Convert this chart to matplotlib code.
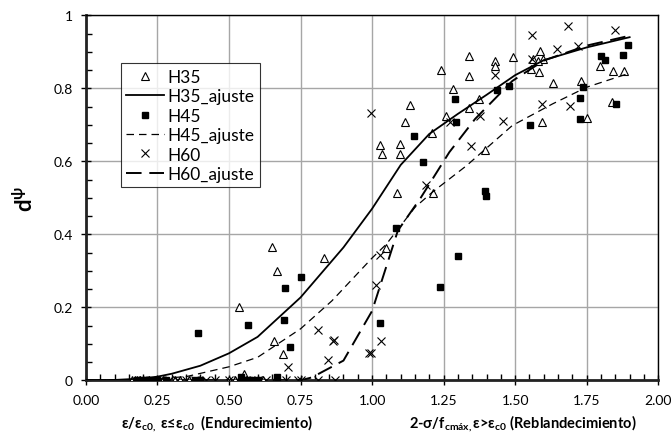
import matplotlib
matplotlib.use("Agg")
from matplotlib import pyplot as plt
from matplotlib.ticker import MultipleLocator, FixedLocator

plt.rcParams['font.family'] = ['Lato', 'DejaVu Sans']
plt.rcParams['mathtext.fontset'] = 'custom'
plt.rcParams['mathtext.rm'] = 'Lato:bold'
plt.rcParams['mathtext.it'] = 'Lato:bold'
plt.rcParams['mathtext.bf'] = 'Lato:bold'

# --- data ---
h35_x = [0.651, 0.831, 0.669, 0.536, 0.658, 0.690, 0.553,
         1.340, 1.429, 1.430, 1.493, 1.241, 1.337, 1.283, 1.374, 1.337, 1.259,
         1.133, 1.115, 1.209, 1.028, 1.036, 1.098, 1.098, 1.395, 1.086, 1.214,
         1.048, 1.588, 1.599, 1.555, 1.585, 1.632, 1.731, 1.795, 1.842, 1.882,
         1.838, 1.751, 1.593, 1.563, 1.580,
         0.16, 0.17, 0.18, 0.19, 0.20, 0.22, 0.24, 0.27, 0.31, 0.33, 0.36,
         0.50, 0.52, 0.56, 0.60, 0.62, 0.66]
h35_y = [0.364, 0.335, 0.299, 0.200, 0.108, 0.072, 0.017,
         0.888, 0.874, 0.860, 0.885, 0.851, 0.835, 0.798, 0.771, 0.746, 0.723,
         0.754, 0.708, 0.677, 0.645, 0.620, 0.647, 0.620, 0.632, 0.513, 0.513,
         0.362, 0.901, 0.880, 0.853, 0.844, 0.815, 0.819, 0.862, 0.848, 0.848,
         0.762, 0.719, 0.707, 0.880, 0.875,
         0, 0, 0, 0, 0, 0, 0, 0, 0, 0, 0,
         0, 0, 0, 0, 0, 0]

h45_x = [0.393, 0.751, 0.697, 0.565, 0.692, 0.714, 0.542, 0.669,
         1.290, 1.294, 1.148, 1.178, 1.437, 1.479, 1.395, 1.397,
         1.083, 1.302, 1.237, 1.028,
         1.552, 1.725, 1.727, 1.737, 1.800, 1.815, 1.876, 1.893, 1.853,
         0.18, 0.20, 0.21, 0.23, 0.25, 0.28, 0.38, 0.40, 0.55, 0.57, 0.58, 0.60]
h45_y = [0.130, 0.284, 0.253, 0.152, 0.165, 0.090, 0.008, 0.008,
         0.770, 0.708, 0.670, 0.599, 0.796, 0.807, 0.519, 0.506,
         0.416, 0.341, 0.256, 0.158,
         0.700, 0.716, 0.773, 0.803, 0.888, 0.878, 0.891, 0.919, 0.758,
         0, 0, 0, 0, 0, 0, 0, 0, 0, 0, 0, 0]

h60_x = [0.812, 0.868, 0.865, 0.845, 0.707, 0.990,
         1.028, 1.013, 1.031, 0.997,
         0.997, 1.430, 1.378, 1.456, 1.346, 1.189, 1.273,
         1.558, 1.683, 1.850, 1.646, 1.721, 1.558, 1.593, 1.690,
         0.20, 0.23, 0.26, 0.29, 0.32, 0.35, 0.38, 0.42, 0.45, 0.50,
         0.53, 0.56, 0.60, 0.63, 0.70, 0.74, 0.75, 0.81, 0.87]
h60_y = [0.138, 0.111, 0.108, 0.056, 0.036, 0.074,
         0.343, 0.262, 0.108, 0.075,
         0.732, 0.836, 0.725, 0.710, 0.641, 0.536, 0.707,
         0.946, 0.972, 0.961, 0.908, 0.915, 0.880, 0.757, 0.751,
         0, 0, 0, 0, 0, 0, 0, 0, 0, 0,
         0, 0, 0, 0, 0, 0, 0, 0, 0]

h35_fit_x = [0, 0.1, 0.2, 0.25, 0.3, 0.4, 0.5, 0.6, 0.75, 0.9, 1.0, 1.1,
             1.2, 1.3, 1.4, 1.5, 1.6, 1.75, 1.9]
h35_fit_y = [0, 0.001, 0.005, 0.010, 0.018, 0.040, 0.074, 0.119, 0.227, 0.364,
             0.470, 0.590, 0.675, 0.730, 0.782, 0.836, 0.877, 0.912, 0.940]

h45_fit_x = [0, 0.2, 0.35, 0.5, 0.6, 0.75, 0.86, 1.0, 1.05, 1.15, 1.21,
             1.33, 1.49, 1.63, 1.75, 1.89]
h45_fit_y = [0, 0.002, 0.010, 0.037, 0.063, 0.141, 0.218, 0.335, 0.373, 0.474,
             0.515, 0.588, 0.698, 0.757, 0.803, 0.839]

h60_fit_x = [0, 0.75, 0.79, 0.9, 1.0, 1.09, 1.17, 1.27, 1.36, 1.49, 1.6,
             1.75, 1.9]
h60_fit_y = [0, 0, 0.008, 0.054, 0.190, 0.410, 0.500, 0.625, 0.716, 0.820,
             0.876, 0.917, 0.944]

x_ticks = [0, 0.25, 0.5, 0.75, 1.0, 1.25, 1.5, 1.75, 2.0]
x_labels = ['0.00', '0.25', '0.50', '0.75', '1.00', '1.25', '1.50', '1.75', '2.00']
y_ticks = [0, 0.2, 0.4, 0.6, 0.8, 1.0]
y_labels = ['0', '0.2', '0.4', '0.6', '0.8', '1']

fig = plt.figure(figsize=(6.71, 4.39), dpi=100)
ax = fig.add_axes([0.128, 0.1314, 0.853, 0.8315])

ax.plot(h35_x, h35_y, linestyle='none', marker='^', markersize=6,
        markerfacecolor='white', markeredgecolor='black', markeredgewidth=0.8,
        label='H35', zorder=3)
ax.plot(h35_fit_x, h35_fit_y, color='black', linewidth=1.3,
        label='H35_ajuste', zorder=4)
ax.plot(h45_x, h45_y, linestyle='none', marker='s', markersize=5,
        color='black', label='H45', zorder=3)
ax.plot(h45_fit_x, h45_fit_y, color='black', linewidth=0.9,
        linestyle=(0, (6, 4)), label='H45_ajuste', zorder=4)
ax.plot(h60_x, h60_y, linestyle='none', marker='x', markersize=5.5,
        color='black', markeredgewidth=0.8, label='H60', zorder=3)
ax.plot(h60_fit_x, h60_fit_y, color='black', linewidth=1.4,
        linestyle=(0, (8, 4)), label='H60_ajuste', zorder=4)

ax.set_xlim(0, 2)
ax.set_ylim(0, 1)
ax.xaxis.set_major_locator(FixedLocator(x_ticks))
ax.set_xticklabels(x_labels)
ax.yaxis.set_major_locator(FixedLocator(y_ticks))
ax.set_yticklabels(y_labels)
ax.xaxis.set_minor_locator(MultipleLocator(0.05))
ax.yaxis.set_minor_locator(MultipleLocator(0.05))
ax.tick_params(which='major', direction='inout', length=7, width=1,
               labelsize=10, pad=6)
ax.tick_params(which='minor', direction='in', length=4, width=1)
ax.grid(True, which='major', color='#a6a6a6', linewidth=1)
ax.set_axisbelow(True)

for side in ['left', 'bottom']:
    ax.spines[side].set_linewidth(2)
    ax.spines[side].set_color('#222222')
for side in ['top', 'right']:
    ax.spines[side].set_linewidth(1)

leg = ax.legend(loc='upper left', bbox_to_anchor=(0.061, 0.868),
                fontsize=12.5, frameon=True, fancybox=False, handlelength=2.2,
                handletextpad=0.2, borderpad=0.3, labelspacing=0.2,
                borderaxespad=0)
leg.get_frame().set_edgecolor('black')
leg.get_frame().set_linewidth(0.8)

ax.set_ylabel(r'd$^{\psi}$', fontsize=16, fontweight='bold', labelpad=12)

fig.text(217 / 671, 1 - 424 / 439,
         r'ε/ε$_{\mathregular{c0,}}$ ε≤ε$_{\mathregular{c0}}$  (Endurecimiento)',
         ha='center', va='center', fontsize=10.5, fontweight='bold')
fig.text(523 / 671, 1 - 424 / 439,
         r'2-σ/f$_{\mathregular{cmáx,}}$ε>ε$_{\mathregular{c0}}$ (Reblandecimiento)',
         ha='center', va='center', fontsize=10.5, fontweight='bold')

fig.savefig('out.png', dpi=100)
